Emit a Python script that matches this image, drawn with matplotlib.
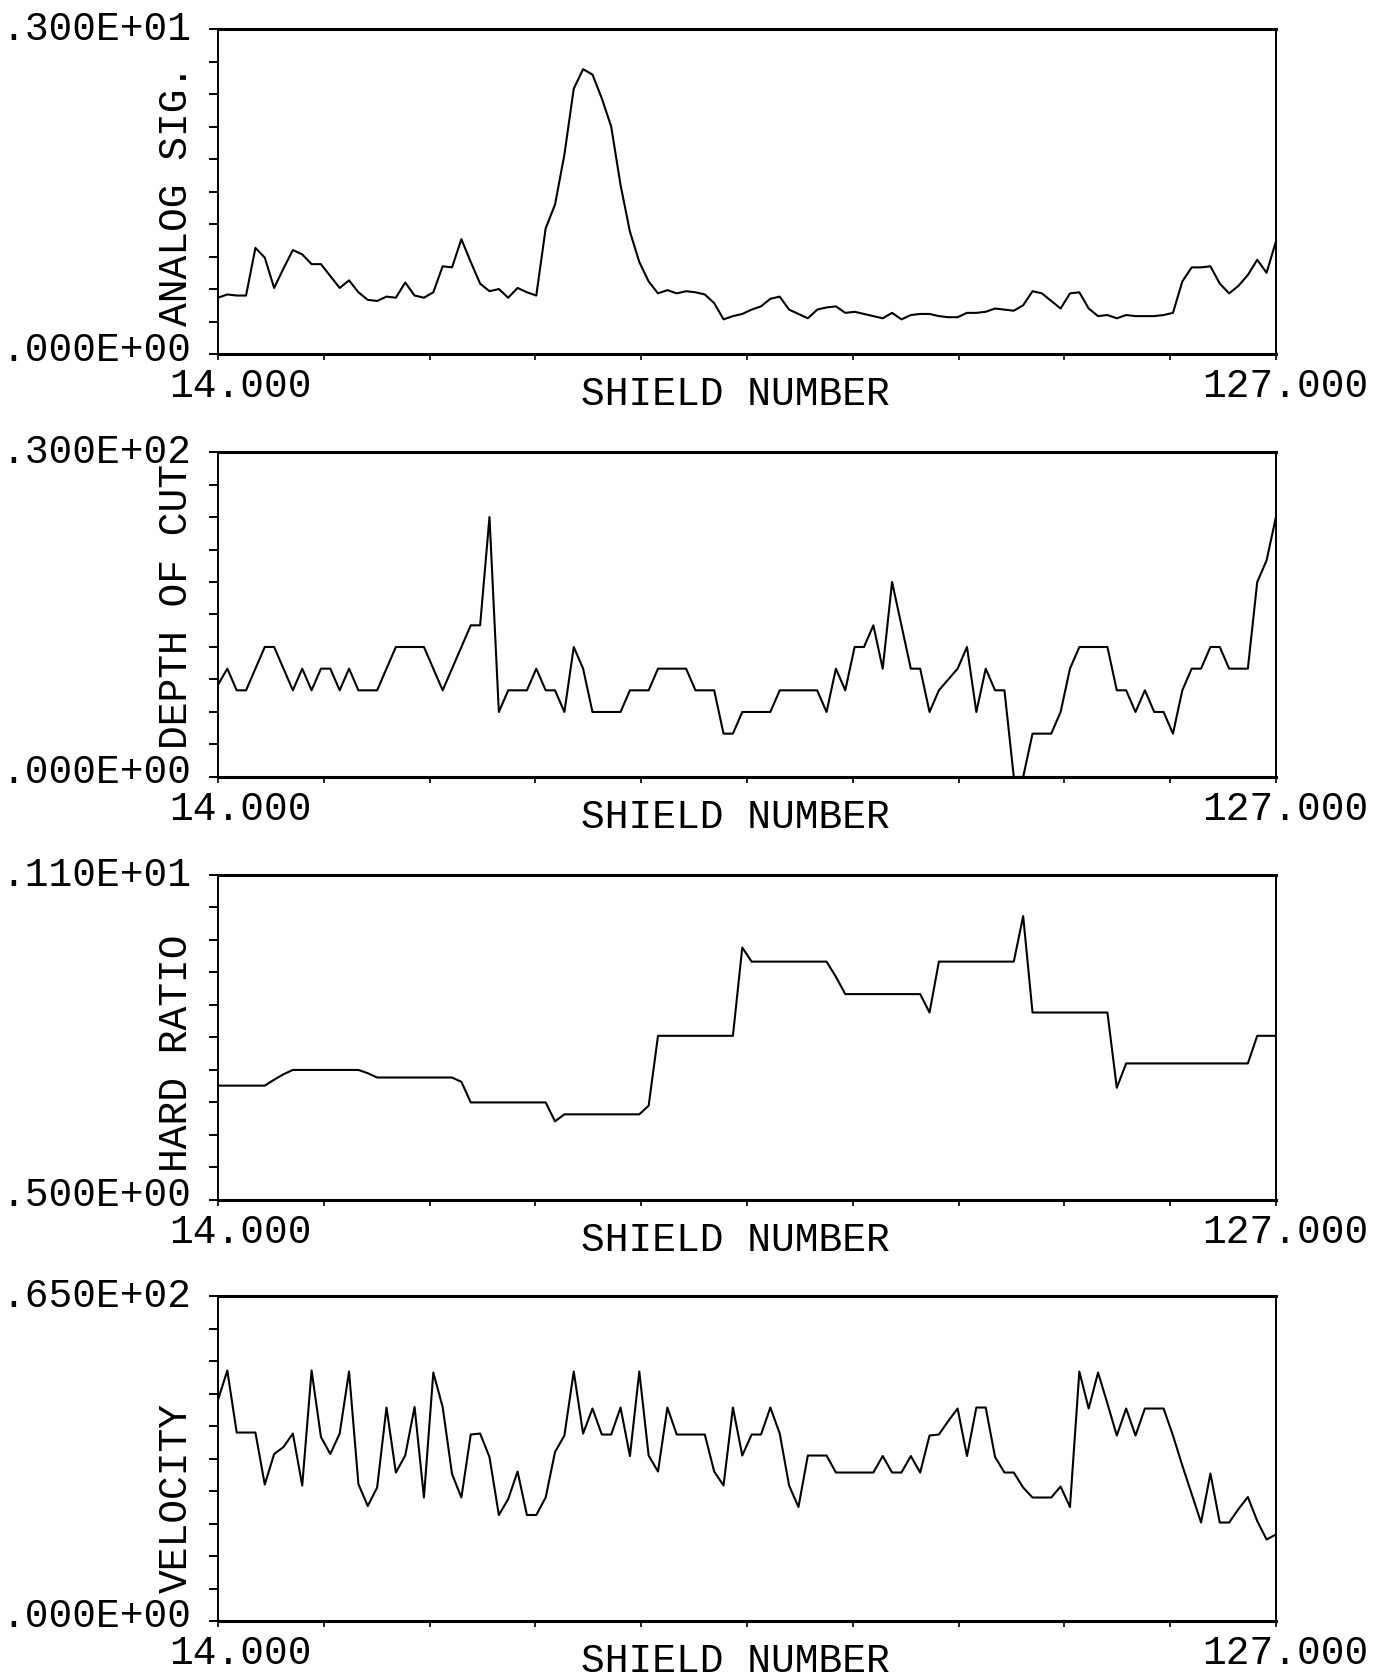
import numpy as np
import matplotlib.pyplot as plt

plt.rcParams['font.family'] = ['Liberation Mono', 'DejaVu Sans Mono']

# shield numbers along the face
shield = np.arange(14, 128)

analog_sig = [
    0.52, 0.55, 0.54, 0.54, 0.98, 0.89, 0.61, 0.79, 0.96, 0.92,
    0.83, 0.83, 0.72, 0.61, 0.68, 0.57, 0.50, 0.49, 0.53, 0.52,
    0.66, 0.54, 0.52, 0.57, 0.81, 0.80, 1.06, 0.85, 0.65, 0.58,
    0.60, 0.52, 0.61, 0.57, 0.54, 1.16, 1.38, 1.84, 2.45, 2.63,
    2.58, 2.36, 2.10, 1.56, 1.13, 0.85, 0.67, 0.56, 0.59, 0.56,
    0.58, 0.57, 0.55, 0.47, 0.32, 0.35, 0.37, 0.41, 0.44, 0.51,
    0.53, 0.41, 0.37, 0.33, 0.41, 0.43, 0.44, 0.38, 0.39, 0.37,
    0.35, 0.33, 0.38, 0.32, 0.36, 0.37, 0.37, 0.35, 0.34, 0.34,
    0.38, 0.38, 0.39, 0.42, 0.41, 0.40, 0.45, 0.58, 0.56, 0.49,
    0.42, 0.56, 0.57, 0.42, 0.35, 0.36, 0.33, 0.36, 0.35, 0.35,
    0.35, 0.36, 0.38, 0.67, 0.80, 0.80, 0.81, 0.65, 0.56, 0.63,
    0.73, 0.87, 0.75, 1.04,
]

depth_of_cut = [
    8.5, 10, 8, 8, 10, 12, 12, 10, 8, 10,
    8, 10, 10, 8, 10, 8, 8, 8, 10, 12,
    12, 12, 12, 10, 8, 10, 12, 14, 14, 24,
    6, 8, 8, 8, 10, 8, 8, 6, 12, 10,
    6, 6, 6, 6, 8, 8, 8, 10, 10, 10,
    10, 8, 8, 8, 4, 4, 6, 6, 6, 6,
    8, 8, 8, 8, 8, 6, 10, 8, 12, 12,
    14, 10, 18, 14, 10, 10, 6, 8, 9, 10,
    12, 6, 10, 8, 8, 0, 0, 4, 4, 4,
    6, 10, 12, 12, 12, 12, 8, 8, 6, 8,
    6, 6, 4, 8, 10, 10, 12, 12, 10, 10,
    10, 18, 20, 24,
]

hard_ratio = [
    0.711, 0.711, 0.711, 0.711, 0.711, 0.711, 0.722, 0.732, 0.740, 0.740,
    0.740, 0.740, 0.740, 0.740, 0.740, 0.740, 0.734, 0.726, 0.726, 0.726,
    0.726, 0.726, 0.726, 0.726, 0.726, 0.726, 0.718, 0.680, 0.680, 0.680,
    0.680, 0.680, 0.680, 0.680, 0.680, 0.680, 0.645, 0.658, 0.658, 0.658,
    0.658, 0.658, 0.658, 0.658, 0.658, 0.658, 0.674, 0.803, 0.803, 0.803,
    0.803, 0.803, 0.803, 0.803, 0.803, 0.803, 0.966, 0.940, 0.940, 0.940,
    0.940, 0.940, 0.940, 0.940, 0.940, 0.940, 0.912, 0.880, 0.880, 0.880,
    0.880, 0.880, 0.880, 0.880, 0.880, 0.880, 0.846, 0.940, 0.940, 0.940,
    0.940, 0.940, 0.940, 0.940, 0.940, 0.940, 1.024, 0.846, 0.846, 0.846,
    0.846, 0.846, 0.846, 0.846, 0.846, 0.846, 0.707, 0.752, 0.752, 0.752,
    0.752, 0.752, 0.752, 0.752, 0.752, 0.752, 0.752, 0.752, 0.752, 0.752,
    0.752, 0.803, 0.803, 0.803,
]

velocity = [
    44.2, 50.1, 37.7, 37.7, 37.7, 27.3, 33.4, 34.8, 37.5, 27.1,
    50.1, 36.8, 33.4, 37.5, 49.9, 27.4, 23.0, 26.7, 42.7, 29.7,
    33.1, 42.8, 24.7, 49.7, 42.8, 29.4, 24.7, 37.3, 37.5, 32.8,
    21.2, 24.4, 29.9, 21.2, 21.2, 24.7, 33.8, 37.1, 49.9, 37.5,
    42.5, 37.3, 37.3, 42.7, 33.0, 49.9, 33.1, 29.9, 42.7, 37.3,
    37.3, 37.3, 37.3, 29.9, 27.1, 42.7, 33.1, 37.3, 37.3, 42.7,
    37.5, 27.1, 22.8, 33.1, 33.1, 33.1, 29.7, 29.7, 29.7, 29.7,
    29.7, 33.0, 29.7, 29.7, 33.0, 29.7, 37.1, 37.3, 40.0, 42.5,
    33.0, 42.7, 42.7, 32.8, 29.7, 29.7, 26.7, 24.7, 24.7, 24.7,
    26.9, 22.8, 49.9, 42.5, 49.7, 43.5, 37.1, 42.5, 37.1, 42.5,
    42.5, 42.5, 37.1, 31.1, 25.4, 19.7, 29.5, 19.7, 19.7, 22.4,
    24.8, 20.0, 16.3, 17.3,
]

series = [analog_sig, depth_of_cut, hard_ratio, velocity]
y_titles = ["ANALOG SIG.", "DEPTH OF CUT", "HARD RATIO", "VELOCITY"]
y_min = [0.0, 0.0, 0.5, 0.0]
y_max = [3.0, 30.0, 1.1, 65.0]
y_min_labels = [".000E+00", ".000E+00", ".500E+00", ".000E+00"]
y_max_labels = [".300E+01", ".300E+02", ".110E+01", ".650E+02"]
x_min_label = "14.000"
x_max_label = "127.000"
x_title = "SHIELD NUMBER"

fig = plt.figure(figsize=(13.83, 16.81), dpi=100)
bottoms = [0.7888, 0.5372, 0.2856, 0.0351]
fs = 28.5

for i, vals in enumerate(series):
    ax = fig.add_axes([0.1576, bottoms[i], 0.765, 0.1933])
    ax.plot(shield, vals, color='black', lw=1.5)
    ax.set_xlim(shield[0], shield[-1])
    ax.set_ylim(y_min[i], y_max[i])

    # ten divisions on both axes, only the end values are labelled
    ax.set_xticks(np.linspace(shield[0], shield[-1], 11))
    ax.set_xticklabels([])
    ax.set_yticks(np.linspace(y_min[i], y_max[i], 11))
    ax.set_yticklabels([])
    ax.tick_params(axis='y', direction='out', length=6.5, width=1.4)
    ax.tick_params(axis='x', direction='out', length=4.5, width=1.2)

    for side in ['top', 'bottom']:
        ax.spines[side].set_linewidth(2.2)
    for side in ['left', 'right']:
        ax.spines[side].set_linewidth(1.4)

    # end labels of the value axis, written by the plotter beside the frame
    ax.text(-0.0255, 0.017, y_min_labels[i], transform=ax.transAxes,
            ha='right', va='center', fontsize=fs)
    ax.text(-0.0255, 1.003, y_max_labels[i], transform=ax.transAxes,
            ha='right', va='center', fontsize=fs)

    ax.text(-0.0397, 0.088, y_titles[i], rotation=90, transform=ax.transAxes,
            ha='center', va='bottom', fontsize=fs)
    ax.text(0.021, -0.129, x_min_label, transform=ax.transAxes,
            ha='center', va='baseline', fontsize=fs)
    ax.text(1.0085, -0.129, x_max_label, transform=ax.transAxes,
            ha='center', va='baseline', fontsize=fs)
    ax.text(0.489, -0.154, x_title, transform=ax.transAxes,
            ha='center', va='baseline', fontsize=fs)

fig.savefig('out.png', dpi=100, facecolor='white')
